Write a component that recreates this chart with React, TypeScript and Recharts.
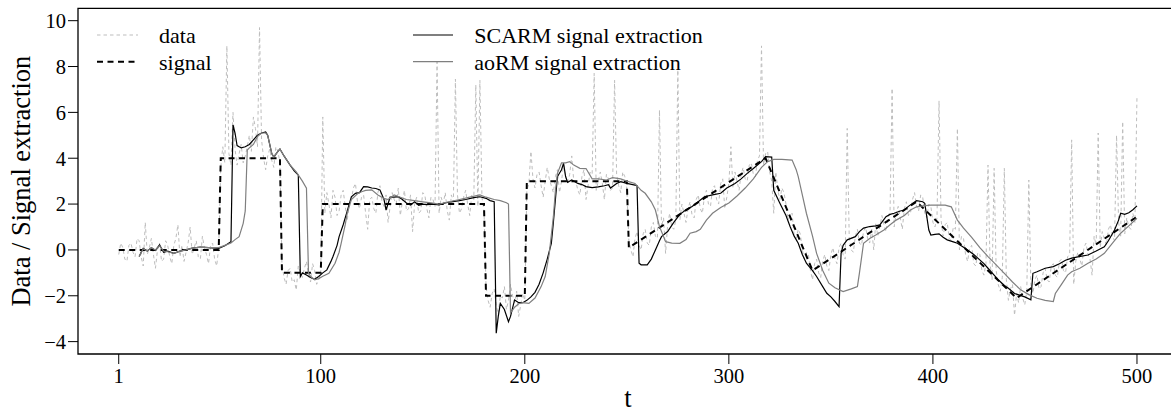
import React from 'react';
import { LineChart, Line, XAxis, YAxis, ReferenceArea } from 'recharts';

const xTicks = [1, 100, 200, 300, 400, 500];
const yTicks = [-4, -2, 0, 2, 4, 6, 8, 10];
const xDomain: [number, number] = [-18.96, 519.96];
const yDomain: [number, number] = [-4.54, 10.54];

const legendLeft = ['data', 'signal'];
const legendRight = ['SCARM signal extraction', 'aoRM signal extraction'];

// observed data, one value per t = 1..500
const dataValues: number[] = [
  -0.2,0.3,0.1,-0.4,-0.5,0.2,0.3,-0.1,-0.3,0.5,0.4,-0.3,-0.7,1.2,-0.2,0.1,0.5,-0.2,-0.8,0.0,
  0.3,-0.5,-0.4,0.4,0.2,-0.3,-0.6,0.2,0.5,1.1,-0.3,0.2,-0.5,-0.1,0.3,1.0,-0.2,0.1,0.4,-0.3,
  -0.4,0.6,0.1,-0.2,-0.6,0.2,0.3,-0.4,-0.7,0.1,
  3.6,4.5,3.8,8.9,4.2,3.7,6.0,4.4,3.7,4.2,4.6,3.8,4.1,4.5,5.0,4.3,5.8,5.3,4.5,9.7,
  4.8,4.0,3.5,4.1,4.4,3.9,3.6,4.5,4.3,3.8,
  -0.6,-1.2,-1.5,-0.9,-0.8,-1.4,-1.3,-1.75,-0.7,-1.0,-1.2,-0.8,-0.5,-1.1,-1.4,-0.6,-0.9,-1.5,-1.3,-1.1,
  5.8,1.6,2.5,2.0,1.4,2.6,2.3,1.5,1.7,2.4,2.6,1.9,1.3,2.0,2.2,2.7,2.9,2.1,1.8,2.3,
  2.4,1.6,0.9,2.2,2.3,1.8,1.6,2.5,2.8,2.1,1.9,2.4,1.2,1.9,2.5,2.2,2.0,2.7,1.5,2.1,
  2.6,1.7,1.8,2.4,0.8,2.0,2.3,1.6,1.7,2.5,2.4,1.8,1.4,2.3,2.2,1.9,8.2,1.6,2.3,2.0,
  2.5,1.7,1.3,2.4,2.1,7.45,2.4,1.6,1.8,2.3,2.6,2.0,1.5,2.4,2.2,7.2,1.9,7.4,2.3,1.7,
  -1.6,-2.2,-2.5,-1.9,-1.7,-2.4,-2.8,-2.0,-2.1,-1.6,-2.6,-2.2,-1.5,-2.0,-2.3,-1.8,-2.9,-2.4,-1.9,-2.2,
  2.6,2.9,4.3,3.1,2.7,3.3,3.4,2.8,2.3,3.0,3.6,3.1,2.8,2.5,3.2,3.5,2.5,3.0,3.7,3.2,
  2.9,3.3,4.1,3.0,3.0,2.6,2.4,3.2,3.5,2.2,2.8,3.4,3.3,7.7,2.6,3.0,3.4,2.9,2.2,3.3,
  3.1,2.6,2.7,7.4,3.3,2.8,2.5,3.4,3.2,2.7,
  0.4,0.0,-0.3,0.5,0.8,0.2,0.0,0.7,0.9,0.3,0.2,1.0,1.2,0.6,0.5,6.1,1.0,1.4,-0.15,1.1,
  1.6,1.0,0.9,1.3,7.85,1.3,2.0,1.6,1.2,1.8,2.1,1.5,1.4,2.2,2.4,1.8,1.6,2.3,2.6,2.0,
  1.9,2.7,2.8,2.2,2.0,2.9,3.1,1.8,2.3,2.9,4.5,2.7,3.4,3.0,2.6,3.3,3.6,3.1,3.0,3.7,
  3.8,3.3,3.2,3.9,4.1,8.9,3.7,
  4.2,4.3,3.4,3.0,1.6,3.4,2.6,2.2,2.7,2.5,2.0,1.3,1.5,1.6,0.6,0.5,0.9,0.7,0.0,-0.4,
  -0.1,-0.2,-0.9,-1.3,
  -0.6,-0.4,-1.0,-1.2,-0.5,-0.2,-0.7,-0.9,-0.2,0.1,-0.4,-0.6,0.1,0.3,-0.2,-0.4,5.3,0.5,0.0,-0.1,
  0.6,0.9,0.3,0.2,0.8,1.0,0.5,0.3,0.9,0.0,1.2,0.6,1.0,1.5,1.1,0.8,1.4,1.7,7.05,1.0,
  1.6,1.9,1.4,0.9,1.8,2.1,1.5,1.6,2.2,2.5,
  1.9,1.7,2.4,2.3,1.6,1.4,2.0,1.9,1.2,1.0,1.4,6.5,1.3,0.6,1.1,1.2,0.5,0.4,1.0,0.9,
  5.3,0.0,0.6,0.5,-0.2,-0.5,0.1,0.2,-0.6,-0.7,-0.1,-0.2,-0.9,-1.1,-0.6,3.7,-0.6,-1.3,3.56,-0.9,
  -1.5,-1.8,-1.2,3.56,-1.3,-2.2,-1.7,-1.5,-2.85,-1.9,
  -2.3,-1.6,-2.1,-2.4,-1.8,3.05,-1.5,-1.9,-1.3,-1.1,-1.7,-1.6,-1.0,-0.8,-1.3,-1.4,-0.7,-0.6,-1.1,-1.2,
  -0.5,-0.4,-0.9,-1.0,-0.3,-0.2,4.8,-1.5,-0.5,-0.1,-0.4,-0.7,0.1,0.3,-0.2,-0.4,-1.1,0.6,0.2,5.1,
  0.1,0.8,0.5,0.2,0.9,1.1,0.6,0.4,5.0,1.2,0.6,5.6,0.7,1.4,1.0,0.9,1.6,1.2,6.7,
];

// true signal (t, value)
const signalPts: number[][] = [
  [1,0],[50,0],[51,4],[80,4],[81,-1],[100,-1],[101,2],[180,2],[181,-2],[200,-2],[201,3],[250,3],
  [251,0.1],[318,4.0],[341,-0.9],[392,2.1],[441,-2.1],[500,1.45],
];

// SCARM signal extraction (t, value)
const scarmPts: number[][] = [
  [11,-0.29],[13,0.07],[15,-0.05],[17,0.1],[19,-0.02],[21,0.22],[23,-0.1],[25,-0.05],[28,-0.15],[31,-0.05],[34,0.0],[37,0.08],[41,0.12],[45,0.1],[50,0.07],[53,0.18],[56,0.36],
  [57,5.45],[58,5.1],[59,4.55],[61,4.45],[63,4.5],[65,4.6],[67,4.8],[69,5.0],[71,5.1],[73,5.15],[74,5.0],[76,4.2],[77,4.05],[79,4.3],[80,4.4],[82,4.1],[85,3.7],[87,3.45],[89,3.26],
  [90,-1.16],[91,-1.0],[93,-1.09],[95,-1.2],[97,-1.28],[99,-1.16],[101,-1.0],[103,-0.87],[105,-0.5],[106,-0.29],[108,0.2],[109,0.58],[111,1.1],[113,1.7],[115,2.32],[117,2.47],[119,2.5],[121,2.76],[123,2.75],[125,2.7],[127,2.68],[129,2.62],[131,2.2],[132,1.74],[134,2.3],[136,2.3],[138,2.32],[140,2.2],[142,2.05],[144,1.96],[146,2.1],[148,1.95],[150,2.0],[152,1.98],[155,2.0],[158,1.96],[161,2.05],[164,2.1],[168,2.15],[171,2.2],[175,2.28],[178,2.32],[181,2.25],[183,2.15],[185,2.1],
  [186,-3.63],[187,-2.9],[188,-2.33],[190,-2.6],[192,-3.13],[193,-2.9],[195,-2.18],[197,-2.3],[199,-2.3],[201,-2.2],[203,-2.05],[205,-1.85],[207,-1.5],[209,-1.0],[211,-0.4],[213,0.29],[214,1.2],[215,2.2],[216,3.2],[218,3.5],[219,3.78],[220,3.2],[221,2.95],[223,3.05],[226,2.9],[228,2.85],[230,2.76],[233,2.72],[236,2.75],[239,2.8],[241,2.85],[242,2.7],[245,2.9],[247,2.98],[250,2.9],[254,2.83],[255,2.8],
  [256,-0.58],[257,-0.65],[260,-0.65],[262,-0.4],[264,0.0],[266,0.4],[267,0.58],[270,0.8],[273,1.2],[276,1.55],[279,1.75],[282,1.89],[285,2.1],[288,2.32],[292,2.4],[296,2.47],[299,2.7],[303,2.9],[306,3.1],[309,3.34],[312,3.55],[316,3.85],[318,4.07],[321,4.05],
  [322,2.6],[325,2.04],[328,1.5],[330,1.02],[332,0.6],[334,0.29],[336,-0.2],[338,-0.58],[341,-0.9],[343,-1.16],[346,-1.6],[348,-1.89],[350,-2.05],[352,-2.25],[354,-2.47],
  [355,-0.15],[356,0.2],[358,0.44],[362,0.58],[364,0.8],[366,0.95],[369,1.02],[372,1.05],[374,1.09],[377,1.45],[379,1.55],[381,1.6],[384,1.7],[386,1.74],[388,1.9],[390,2.03],[392,2.15],[395,2.1],[396,2.03],
  [397,1.45],[398,0.87],[399,0.65],[401,0.68],[403,0.7],[405,0.55],[407,0.44],[410,0.35],[412,0.29],[415,0.12],[417,0.0],[420,-0.2],[422,-0.36],[425,-0.6],[427,-0.8],[430,-1.1],[432,-1.3],[435,-1.55],[437,-1.67],[440,-1.9],[442,-1.96],[445,-2.05],[448,-2.18],
  [449,-1.02],[451,-0.95],[455,-0.8],[459,-0.73],[462,-0.6],[465,-0.45],[468,-0.36],[471,-0.3],[476,-0.22],[480,-0.05],[484,0.14],[486,0.4],[489,0.87],[491,1.3],[492,1.6],[494,1.55],[496,1.62],[498,1.75],[500,1.92],
];

// aoRM signal extraction (t, value)
const aormPts: number[][] = [
  [11,-0.29],[13,0.05],[15,-0.05],[17,0.1],[19,0.0],[21,0.18],[23,-0.05],[25,-0.08],[28,-0.15],[31,-0.05],[34,0.0],[37,0.08],[41,0.12],[45,0.1],[50,0.1],[53,0.2],[56,0.3],[58,0.45],[60,0.58],[62,1.16],[63,1.7],
  [64,4.36],[65,4.45],[67,4.6],[69,4.95],[71,5.1],[73,5.1],[74,5.0],[76,4.2],[77,4.05],[79,4.3],[80,4.4],[82,4.1],[85,3.7],[88,3.4],[91,3.0],[93,2.69],
  [94,-1.02],[95,-1.15],[97,-1.3],[99,-1.25],[101,-1.15],[104,-1.02],[107,-0.58],[109,-0.1],[110,0.29],[112,1.1],[113,1.6],[115,2.2],[118,2.45],[120,2.54],[122,2.6],[125,2.62],[128,2.4],[131,2.25],[133,2.2],[136,2.4],[139,2.3],[142,2.2],[146,2.15],[150,2.1],[154,2.05],[158,2.0],[163,2.1],[168,2.2],[173,2.3],[178,2.4],[181,2.3],[185,2.2],[188,2.15],[191,2.06],[192,2.0],
  [193,-2.75],[195,-2.5],[197,-2.35],[199,-2.3],[202,-2.33],[205,-2.1],[208,-1.6],[210,-1.16],[212,-0.15],[214,1.45],[215,2.6],[216,3.34],[218,3.8],[220,3.8],[222,3.85],[224,3.7],[227,3.56],[230,3.55],[233,3.1],[236,3.1],[240,3.05],[243,3.15],[247,3.1],[250,3.0],[254,2.9],
  [257,2.6],[259,2.47],[262,2.1],[264,1.74],[266,1.02],[268,0.58],[269,0.36],[272,0.3],[276,0.29],[279,0.45],[281,0.73],[284,0.8],[286,0.9],[289,1.3],[292,1.6],[296,1.85],[300,2.05],[304,2.35],[308,2.7],[312,3.1],[316,3.6],[319,3.85],[322,3.95],[326,3.95],[331,3.92],
  [333,3.5],[334,3.2],[336,2.4],[338,1.6],[341,0.6],[343,-0.15],[346,-0.9],[349,-1.45],[352,-1.65],[356,-1.82],[360,-1.7],[363,-1.6],[364,-1.0],[366,0.29],[369,0.5],[372,0.65],[376,0.87],[379,1.1],[382,1.3],[386,1.5],[389,1.74],[392,1.88],[395,1.92],[399,1.95],[402,1.96],[406,1.95],[409,1.88],
  [412,1.3],[415,0.95],[419,0.55],[423,0.1],[427,-0.29],[431,-0.65],[435,-1.02],[439,-1.4],[443,-1.74],[447,-1.95],[451,-2.11],[455,-2.2],[459,-2.25],[460,-1.9],[463,-1.5],[466,-1.1],[468,-0.95],[472,-0.8],[476,-0.58],[480,-0.4],[484,-0.15],[488,0.3],[492,0.73],[496,1.05],[500,1.38],
];

const toRows = (pts: number[][]) => pts.map(([t, y]) => ({ t, y }));
const dataRows = dataValues.map((y, i) => ({ t: i + 1, y }));
const signalRows = toRows(signalPts);
const scarmRows = toRows(scarmPts);
const aormRows = toRows(aormPts);

const FONT = "'Liberation Serif', 'Times New Roman', Times, serif";
const DATA_COLOR = '#bdbdbd';
const AORM_COLOR = '#7f7f7f';
const fmtTick = (v: number) => String(v).replace('-', '\u2212');

export default function App() {
  return (
    <div style={{ position: 'fixed', left: 0, top: 0, width: 1171, height: 414, overflow: 'hidden', background: '#fff' }}>
      <LineChart width={1180} height={414} margin={{ top: 8.3, right: 2.3, bottom: 0, left: 0 }}>
        <XAxis
          type="number"
          dataKey="t"
          domain={xDomain}
          ticks={xTicks}
          allowDataOverflow
          axisLine={false}
          tickLine={{ stroke: '#000', strokeWidth: 1 }}
          tickSize={10}
          tickMargin={4}
          height={60}
          tick={{ fill: '#000', fontSize: 20.5, fontFamily: FONT }}
          interval={0}
          label={{ value: 't', position: 'insideBottom', offset: 7, fill: '#000', fontSize: 26.5, fontFamily: FONT }}
        />
        <YAxis
          type="number"
          dataKey="y"
          domain={yDomain}
          ticks={yTicks}
          tickFormatter={fmtTick}
          allowDataOverflow
          axisLine={false}
          tickLine={{ stroke: '#000', strokeWidth: 1 }}
          tickSize={10}
          tickMargin={2}
          width={78}
          tick={{ fill: '#000', fontSize: 20.5, fontFamily: FONT }}
          interval={0}
          label={{ value: 'Data / Signal extraction', angle: -90, position: 'insideLeft', offset: 21, fill: '#000', fontSize: 26.5, fontFamily: FONT, style: { textAnchor: 'middle' } }}
        />
        <ReferenceArea x1={xDomain[0]} x2={xDomain[1]} y1={yDomain[0]} y2={yDomain[1]} fill="none" fillOpacity={0} stroke="#000" strokeWidth={1.3} strokeOpacity={1} />
        <Line data={dataRows} dataKey="y" type="linear" stroke={DATA_COLOR} strokeWidth={1} strokeDasharray="3.5 3" dot={false} activeDot={false} isAnimationActive={false} />
        <Line data={signalRows} dataKey="y" type="linear" stroke="#000" strokeWidth={2} strokeDasharray="6 4.5" dot={false} activeDot={false} isAnimationActive={false} />
        <Line data={scarmRows} dataKey="y" type="linear" stroke="#000" strokeWidth={1.2} dot={false} activeDot={false} isAnimationActive={false} />
        <Line data={aormRows} dataKey="y" type="linear" stroke={AORM_COLOR} strokeWidth={1.2} dot={false} activeDot={false} isAnimationActive={false} />
      </LineChart>
      <svg width={1171} height={100} style={{ position: 'absolute', left: 0, top: 0, pointerEvents: 'none' }}>
        <line x1={97} x2={138} y1={35} y2={35} stroke={DATA_COLOR} strokeWidth={1} strokeDasharray="3.5 3" />
        <text x={159} y={43.3} fontSize={22} fontFamily={FONT} fill="#000">{legendLeft[0]}</text>
        <line x1={97} x2={138} y1={61.7} y2={61.7} stroke="#000" strokeWidth={2} strokeDasharray="6 4.5" />
        <text x={159} y={69.8} fontSize={22} fontFamily={FONT} fill="#000">{legendLeft[1]}</text>
        <line x1={413} x2={453} y1={35} y2={35} stroke="#000" strokeWidth={1.2} />
        <text x={474.3} y={43.3} fontSize={22} fontFamily={FONT} fill="#000">{legendRight[0]}</text>
        <line x1={413} x2={453} y1={61.7} y2={61.7} stroke={AORM_COLOR} strokeWidth={1.2} />
        <text x={474.3} y={69.8} fontSize={22} fontFamily={FONT} fill="#000">{legendRight[1]}</text>
      </svg>
    </div>
  );
}
